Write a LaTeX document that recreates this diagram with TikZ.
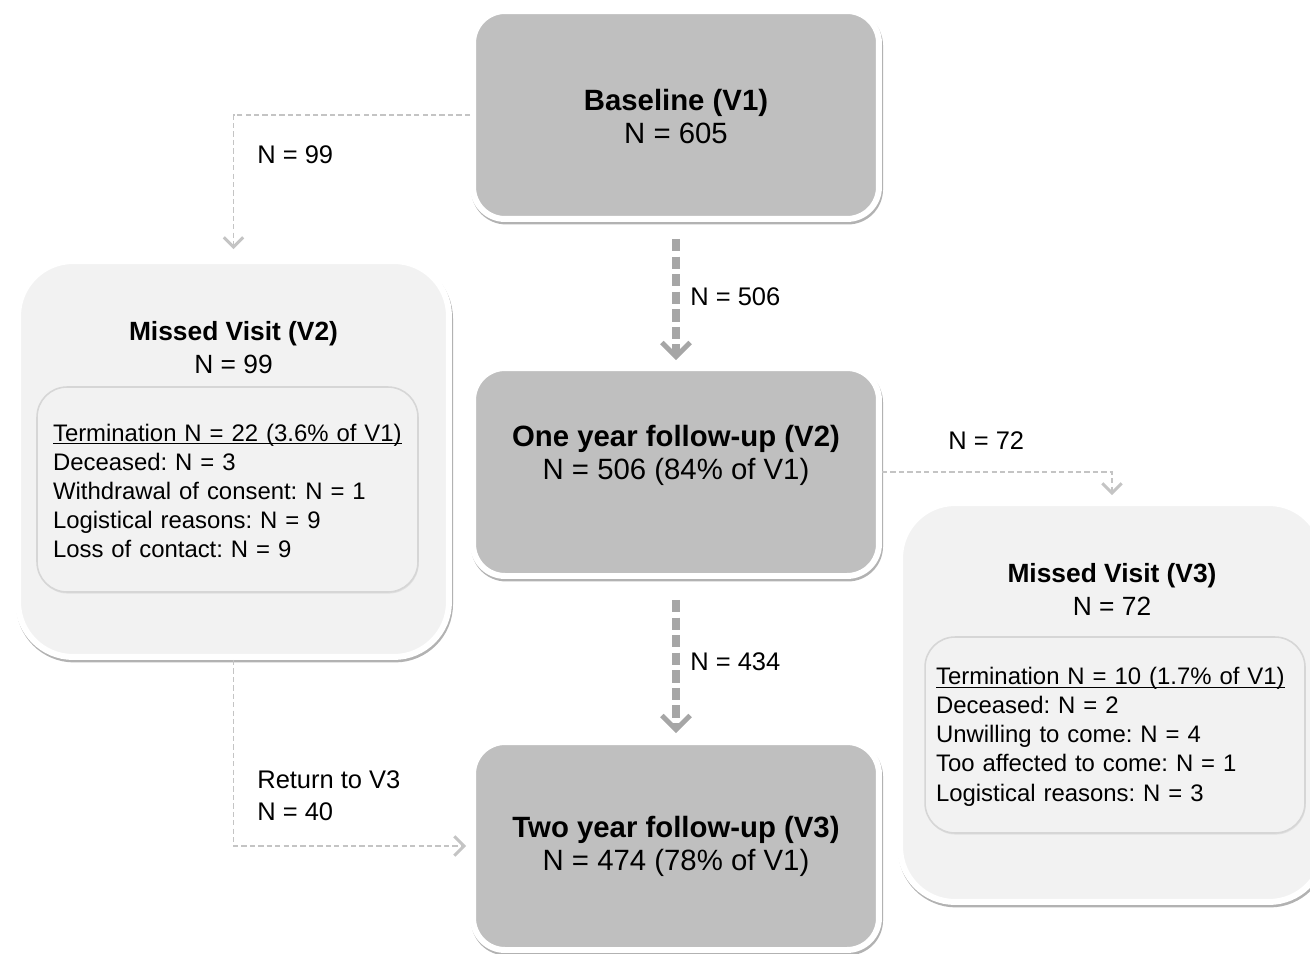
\documentclass[tikz,border=0pt]{standalone}
\usepackage{fontspec}
\setmainfont{Liberation Sans}
\usetikzlibrary{arrows.meta,shadows}
\frenchspacing
\definecolor{cajagris}{HTML}{BFBFBF}
\definecolor{cajaclara}{HTML}{F2F2F2}
\definecolor{flechagris}{HTML}{A6A6A6}
\definecolor{lineagris}{HTML}{C4C4C4}
\definecolor{bordegris}{HTML}{D6D6D6}
\newcommand{\grande}{\fontsize{16.7pt}{18.7pt}\selectfont}
\newcommand{\medio}{\fontsize{15pt}{18.7pt}\selectfont}
\newcommand{\etiq}{\fontsize{14.5pt}{18pt}\selectfont}
\newcommand{\chico}{\fontsize{13.6pt}{16.6pt}\selectfont}
\newcommand{\subr}[1]{\underline{\smash{#1}}\strut}
\tikzstyle{sombra}=[drop shadow={shadow xshift=0.6pt,shadow yshift=-1.4pt,opacity=0.3,draw=black,line width=3.4pt}]
\tikzstyle{visita}=[rectangle,rounded corners=0.64cm,fill=cajagris,draw=white,line width=3.4pt,minimum width=8.12cm,minimum height=4.16cm,sombra]
\tikzstyle{perdida}=[rectangle,rounded corners=1.1cm,fill=cajaclara,draw=white,line width=3.4pt,sombra]
\tikzstyle{motivos}=[rectangle,rounded corners=0.6cm,fill=cajaclara,draw=bordegris,line width=0.9pt,align=left,drop shadow={shadow xshift=0.4pt,shadow yshift=-0.9pt,opacity=0.15},font=\chico]
\tikzstyle{gruesa}=[draw=flechagris,line width=4pt,dash pattern=on 7pt off 3pt,-{Straight Barb[length=8pt,width=16pt,line width=2.8pt]}]
\tikzstyle{fina}=[draw=lineagris,line width=1.1pt,dash pattern=on 3pt off 1.8pt,-{Straight Barb[length=5.5pt,width=11pt,line width=1.7pt]}]
\tikzstyle{texto}=[align=center,font=\grande]
\tikzstyle{etiqueta}=[anchor=west,align=left,inner sep=0pt,font=\etiq]

\begin{document}
\begin{tikzpicture}[x=0.02cm,y=-0.02cm]
		\useasboundingbox (0,0) rectangle (1310,953);
		\clip (0,0) rectangle (1310,953);
		% cajas
		\node[visita] (base) at (676,115) {};
		\node[visita] (one) at (676,472) {};
		\node[visita] (two) at (676,846) {};
		\node[perdida,minimum width=8.62cm,minimum height=7.92cm] (miss2) at (233.5,459) {};
		\node[perdida,minimum width=8.48cm,minimum height=7.98cm] (miss3) at (1112,702.5) {};
		\node[motivos,minimum width=7.62cm,minimum height=4.1cm,inner xsep=0.32cm,text width=6.98cm] (why2) at (227.5,489.5) {\subr{Termination N = 22 (3.6\% of V1)}\\Deceased: N = 3\\Withdrawal of consent: N = 1\\Logistical reasons: N = 9\\Loss of contact: N = 9};
		\node[motivos,minimum width=7.6cm,minimum height=3.92cm,inner xsep=0.22cm,text width=7.16cm] (why3) at (1115,735) {\subr{Termination N = 10 (1.7\% of V1)}\\Deceased: N = 2\\Unwilling to come: N = 4\\Too affected to come: N = 1\\Logistical reasons: N = 3};
		% textos
		\node[texto] (baset) at (676,116.5) {\textbf{Baseline (V1)}\\N = 605};
		\node[texto] (onet) at (676,455) {\textbf{One year follow-up (V2)}\\N = 506 (84\% of V1)};
		\node[texto] (twot) at (676,846) {\textbf{Two year follow-up (V3)}\\N = 474 (78\% of V1)};
		\node[texto,font=\medio] (miss2t) at (233.5,347.5) {\textbf{Missed Visit (V2)}\\N = 99};
		\node[texto,font=\medio] (miss3t) at (1112,589.5) {\textbf{Missed Visit (V3)}\\N = 72};
		% flechas
		\draw[fina,shorten >=0.18cm] (base.west) -| (miss2.north);
		\draw[gruesa,shorten <=0.34cm,shorten >=0.1cm] (base.south) -- (one.north);
		\draw[fina,shorten >=0.1cm] (one.east) -| (miss3.north);
		\draw[gruesa,shorten <=0.42cm,shorten >=0.12cm] (one.south) -- (two.north);
		\draw[fina,shorten >=0.08cm] (miss2.south) |- (two.west);
		% etiquetas
		\node[etiqueta] (l99) at (257,155) {N = 99};
		\node[etiqueta] (l506) at (690,297) {N = 506};
		\node[etiqueta] (l72) at (948,441) {N = 72};
		\node[etiqueta] (l434) at (690,662) {N = 434};
		\node[etiqueta] (l40) at (257,796) {Return to V3\\N = 40};
	\end{tikzpicture}
\end{document}
